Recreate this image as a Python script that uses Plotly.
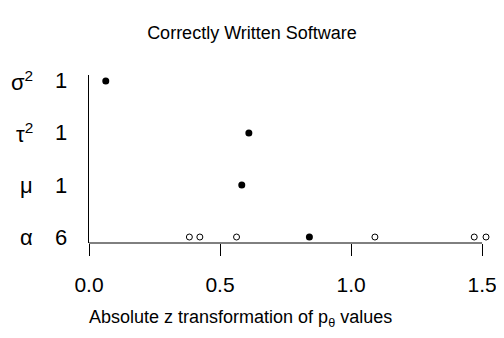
import plotly.graph_objects as go

params = ["α", "μ", "τ<sup>2</sup>", "σ<sup>2</sup>"]
counts = [6, 1, 1, 1]
summary_z = [0.841, 0.583, 0.610, 0.064]
alpha_components = [0.383, 0.423, 0.563, 1.091, 1.470, 1.515]
x_ticks = [0, 0.5, 1.0, 1.5]
x_ticktext = ["0.0", "0.5", "1.0", "1.5"]

ypos = [1, 2, 3, 4]

# page body has ~8px default margin; compensate so the drawing lands where the reference has it
OFF = 8
W, H = 504 - OFF, 338 - 2 * OFF
L, R, T, B = 89 - OFF, 7, 75 - OFF, 95 - OFF
PX_PER_UNIT = 264
plot_w = W - L - R

fig = go.Figure()
fig.add_trace(go.Scatter(
    x=alpha_components, y=[ypos[0]] * len(alpha_components), mode="markers",
    marker=dict(symbol="circle-open", size=6, color="black", line=dict(width=1, color="black")),
    showlegend=False, cliponaxis=False))
fig.add_trace(go.Scatter(
    x=summary_z, y=ypos, mode="markers",
    marker=dict(symbol="circle", size=7, color="black"),
    showlegend=False, cliponaxis=False))

font = "Liberation Sans, Arial, sans-serif"
for p, c, y in zip(params, counts, ypos):
    fig.add_annotation(x=0, xref="paper", xshift=-54, y=y, yref="y", text=p,
                       showarrow=False, xanchor="right", font=dict(size=22, family=font, color="black"))
    fig.add_annotation(x=0, xref="paper", xshift=-28, y=y, yref="y", text=str(c),
                       showarrow=False, xanchor="center", font=dict(size=22, family=font, color="black"))

fig.add_annotation(x=0, xref="paper", xshift=240 - 89, xanchor="center",
                   y=0, yref="paper", yshift=-75, yanchor="middle",
                   text="Absolute z transformation of p<sub>θ</sub> values",
                   showarrow=False, font=dict(size=18, family=font, color="black"))

# x axis line spanning only the labelled ticks
fig.add_shape(type="line", xref="x", yref="paper", x0=x_ticks[0], x1=x_ticks[-1], y0=0, y1=0,
              line=dict(color="black", width=1))

fig.update_layout(
    width=W, height=H,
    margin=dict(l=L, r=R, t=T, b=B),
    plot_bgcolor="white", paper_bgcolor="white",
    font=dict(family=font, size=18, color="black"),
    title=dict(text="Correctly Written Software", x=(252 - OFF) / W, xanchor="center",
               y=1 - (33 - OFF) / H, yanchor="middle", font=dict(size=18)),
    xaxis=dict(range=[0, plot_w / PX_PER_UNIT], tickvals=x_ticks, ticktext=x_ticktext,
               showgrid=False, zeroline=False, showline=False,
               ticks="outside", ticklen=12, tickwidth=1, tickcolor="black",
               tickfont=dict(size=21), ticklabelstandoff=11),
    yaxis=dict(range=[0.885, 4.115], showgrid=False, zeroline=False, showline=True,
               linecolor="black", linewidth=1, showticklabels=False, ticks=""),
)

fig.write_html("out.html")
